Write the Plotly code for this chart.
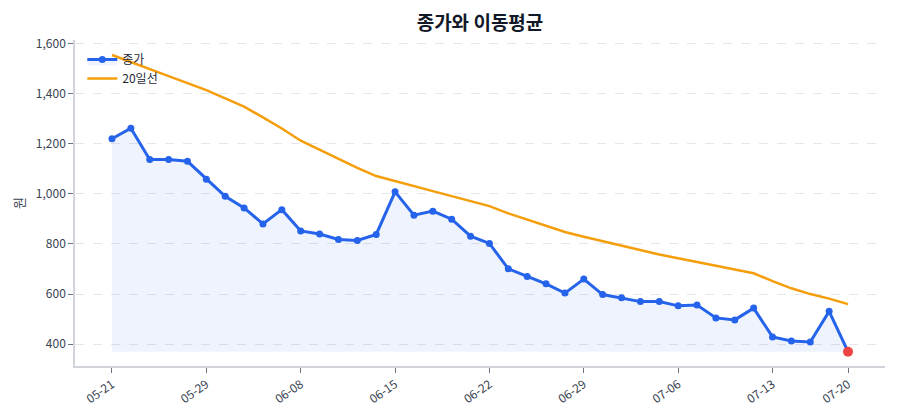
import plotly.graph_objects as go

dates = ["05-21", "05-22", "05-26", "05-27", "05-28", "05-29", "06-01", "06-02", "06-04", "06-05",
         "06-08", "06-09", "06-10", "06-11", "06-12", "06-15", "06-16", "06-17", "06-18", "06-19",
         "06-22", "06-23", "06-24", "06-25", "06-26", "06-29", "06-30", "07-01", "07-02", "07-03",
         "07-06", "07-07", "07-08", "07-09", "07-10", "07-13", "07-14", "07-15", "07-16", "07-20"]

close = [1220, 1262, 1137, 1137, 1130, 1058, 990, 944, 880, 937,
         852, 840, 818, 814, 838, 1008, 915, 931, 899, 831,
         802, 701, 670, 641, 604, 660, 598, 585, 570, 570,
         553, 556, 505, 497, 544, 429, 413, 409, 531, 370]

ma20 = [1554, 1527, 1499, 1470, 1442, 1414, 1381, 1348, 1305, 1261,
        1212, 1175, 1140, 1104, 1071, 1050, 1031, 1011, 991, 971,
        951, 922, 897, 872, 848, 829, 811, 792, 776, 758,
        743, 728, 713, 698, 683, 652, 623, 600, 582, 560]

tick_labels = ["05-21", "05-29", "06-08", "06-15", "06-22", "06-29", "07-06", "07-13", "07-20"]
y_ticks = [400, 600, 800, 1000, 1200, 1400, 1600]

FONT = "Noto Sans CJK KR"
BLUE = "#2563eb"
ORANGE = "#f59e0b"

base = min(close)

fig = go.Figure()
fig.add_trace(go.Scatter(x=dates, y=[base] * len(dates), mode="lines",
                         line=dict(width=0, color="rgba(0,0,0,0)"),
                         showlegend=False, hoverinfo="skip"))
fig.add_trace(go.Scatter(x=dates, y=close, mode="lines+markers", name="종가",
                         line=dict(color=BLUE, width=3),
                         marker=dict(color=BLUE, size=7),
                         fill="tonexty", fillcolor="rgba(37,99,235,0.08)"))
fig.add_trace(go.Scatter(x=dates, y=ma20, mode="lines", name="20일선",
                         line=dict(color=ORANGE, width=2.5)))
fig.add_trace(go.Scatter(x=[dates[-1]], y=[close[-1]], mode="markers",
                         marker=dict(color="#ef4444", size=10),
                         showlegend=False))

fig.update_layout(
    width=900, height=420,
    margin=dict(l=75, r=15, t=40, b=54),
    paper_bgcolor="white", plot_bgcolor="white",
    font=dict(family=FONT, size=12, color="#374151"),
    title=dict(text="<b>종가와 이동평균</b>", x=0.5, xref="paper", xanchor="center",
               y=0.945, yref="container", yanchor="middle",
               font=dict(family=FONT, size=19, color="#111827")),
    legend=dict(x=0.009, y=0.985, xanchor="left", yanchor="top",
                traceorder="normal",
                bgcolor="rgba(255,255,255,0)", font=dict(size=12, color="#1f2937"),
                tracegroupgap=2),
    showlegend=True,
)

fig.update_xaxes(
    type="category", categoryorder="array", categoryarray=dates,
    range=[-1.96, 40.96],
    tickmode="array", tickvals=tick_labels, ticktext=tick_labels,
    tickangle=-35, ticks="outside", ticklen=5, tickcolor="#6b7280",
    showline=True, linecolor="#d1d5db", linewidth=1.5,
    showgrid=False, zeroline=False,
    tickfont=dict(size=12, color="#374151"),
)
fig.update_yaxes(
    range=[313, 1614],
    tickmode="array", tickvals=y_ticks, tickformat=",",
    ticks="outside", ticklen=5, tickcolor="#6b7280",
    showline=True, linecolor="#d1d5db", linewidth=1.5,
    showgrid=True, gridcolor="#e5e7eb", griddash="dash", gridwidth=1,
    zeroline=False,
    title=dict(text="원", font=dict(size=13, color="#374151"), standoff=8),
    tickfont=dict(size=12, color="#374151"),
)

fig.write_html("out.html")
